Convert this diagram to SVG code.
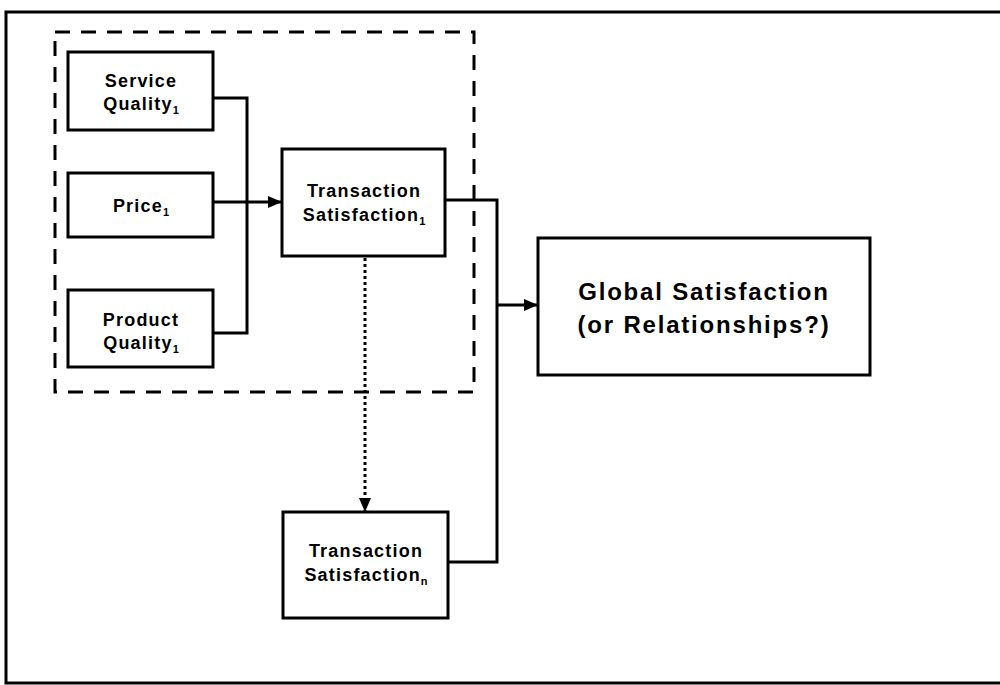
<svg xmlns="http://www.w3.org/2000/svg" width="1000" height="685" viewBox="0 0 1000 685">
<style>
  .box { fill: #fff; stroke: #000; stroke-width: 3; }
  .lbl { font-family: "Liberation Sans", Arial, sans-serif; font-weight: bold; font-size: 18px; letter-spacing: 1.2px; text-anchor: middle; fill: #000; }
  .big { font-family: "Liberation Sans", Arial, sans-serif; font-weight: bold; font-size: 24px; letter-spacing: 1.8px; text-anchor: middle; fill: #000; }
  .sub { font-size: 11px; letter-spacing: 0; }
  .line { fill: none; stroke: #000; stroke-width: 3; }
  .dot { fill: none; stroke: #000; stroke-width: 3; stroke-dasharray: 3 3; }
  .dash { fill: none; stroke: #000; stroke-width: 3; stroke-dasharray: 15 11; }
</style>
<defs>
  <marker id="arr" markerWidth="14" markerHeight="12" refX="14" refY="6" orient="auto" markerUnits="userSpaceOnUse">
    <path d="M0,0 L14,6 L0,12 Z" fill="#000"/>
  </marker>
</defs>
<rect width="1000" height="685" fill="#fff"/>
<path d="M1000,12 H6 V683 H1000" fill="none" stroke="#000" stroke-width="3"/>
<rect id="group" class="dash" x="55" y="32" width="419" height="360"/>

<g id="connectors">
  <path class="line" d="M213,98 H247 V333 H213"/>
  <path class="line" d="M213,202 H282" marker-end="url(#arr)"/>
  <path class="line" d="M445,200 H497 V562 H448"/>
  <path class="line" d="M497,305 H538" marker-end="url(#arr)"/>
  <path class="dot" d="M365,258 V512" marker-end="url(#arr)"/>
</g>

<g id="service-quality">
  <rect class="box" x="68" y="52" width="145" height="78"/>
  <text class="lbl" x="141" y="87">Service</text>
  <text class="lbl" x="141" y="110">Quality<tspan class="sub" dy="4">1</tspan></text>
</g>
<g id="price">
  <rect class="box" x="68" y="173" width="145" height="64"/>
  <text class="lbl" x="141" y="212">Price<tspan class="sub" dy="4">1</tspan></text>
</g>
<g id="product-quality">
  <rect class="box" x="68" y="290" width="145" height="77"/>
  <text class="lbl" x="141" y="326">Product</text>
  <text class="lbl" x="141" y="349">Quality<tspan class="sub" dy="4">1</tspan></text>
</g>
<g id="transaction-satisfaction-1">
  <rect class="box" x="282" y="149" width="163" height="107"/>
  <text class="lbl" x="364" y="197">Transaction</text>
  <text class="lbl" x="364" y="221">Satisfaction<tspan class="sub" dy="4">1</tspan></text>
</g>
<g id="transaction-satisfaction-n">
  <rect class="box" x="283" y="512" width="165" height="106"/>
  <text class="lbl" x="366" y="557">Transaction</text>
  <text class="lbl" x="366" y="581">Satisfaction<tspan class="sub" dy="4">n</tspan></text>
</g>
<g id="global-satisfaction">
  <rect class="box" x="538" y="238" width="332" height="137"/>
  <text class="big" x="704" y="300">Global Satisfaction</text>
  <text class="big" x="704" y="333">(or Relationships?)</text>
</g>
</svg>
